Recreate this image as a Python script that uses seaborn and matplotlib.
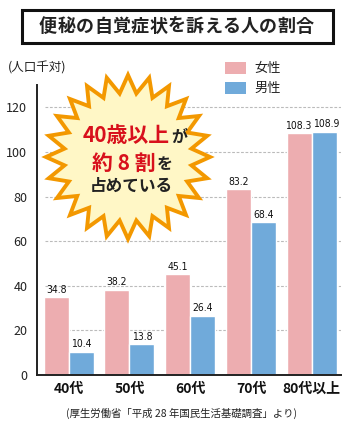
import numpy as np
import pandas as pd
import matplotlib
matplotlib.use("Agg")
import matplotlib.pyplot as plt
from matplotlib.patches import Rectangle, Polygon
import matplotlib.transforms as mtransforms
import seaborn as sns

categories = ["40代", "50代", "60代", "70代", "80代以上"]
female = [34.8, 38.2, 45.1, 83.2, 108.3]
male = [10.4, 13.8, 26.4, 68.4, 108.9]
series = ["女性", "男性"]
yticks = [0, 20, 40, 60, 80, 100, 120]
title = "便秘の自覚症状を訴える人の割合"

sns.set_theme(style="white")
plt.rcParams['font.family'] = ['Noto Sans CJK JP', 'DejaVu Sans']

W, H = 350, 433
fig = plt.figure(figsize=(W / 100, H / 100), dpi=100)
ax = fig.add_axes([37 / W, 1 - 375 / H, (341 - 37) / W, (375 - 85) / H])

df = pd.DataFrame({
    "age": categories * 2,
    "value": female + male,
    "sex": [series[0]] * len(categories) + [series[1]] * len(categories),
})
colors = {"女性": "#EDADB0", "男性": "#70AADA"}
sns.barplot(data=df, x="age", y="value", hue="sex", palette=colors,
            width=0.82, gap=0, ax=ax, legend=False, saturation=1,
            order=categories, hue_order=series)

ax.set_ylim(0, 130)
ax.set_xlim(-0.52, 4.48)
ax.set_yticks(yticks)
ax.set_yticklabels([str(v) for v in yticks], fontsize=9, color="#222222")
ax.set_xticklabels(categories, fontsize=10, color="#111111", fontweight="bold")
ax.set_xlabel("")
ax.set_ylabel("")
ax.tick_params(axis="both", length=0, pad=5)
ax.tick_params(axis="y", pad=7)
for s in ["top", "right"]:
    ax.spines[s].set_visible(False)
for s in ["left", "bottom"]:
    ax.spines[s].set_color("#222222")
    ax.spines[s].set_linewidth(1.4)
for v in yticks[1:]:
    ax.axhline(v, xmin=0.025, xmax=1, color="#BBBBBB", lw=0.8, ls=(0, (2.5, 1.5)), zorder=0)
ax.set_axisbelow(True)

for ci, cont in enumerate(ax.containers):
    for bi, bar in enumerate(cont):
        h = bar.get_height()
        dx = 0
        if bi == len(cont) - 1:
            dx = -1.5 if ci == 0 else 1.5
        tr = ax.transData + mtransforms.ScaledTranslation(dx / 100, 0, fig.dpi_scale_trans)
        ax.text(bar.get_x() + bar.get_width() / 2, h + 1.2, f"{h:.1f}",
                ha="center", va="bottom", fontsize=7.5, color="#111111",
                family=["DejaVu Sans"], fontstretch="condensed", transform=tr)

def fx(x):
    return x / W

def fy(y):
    return 1 - y / H

# Title box
fig.patches.append(Rectangle((fx(22), fy(43)), (333 - 22) / W, (43 - 10) / H,
                             transform=fig.transFigure, fill=False,
                             edgecolor="#111111", lw=2.2))
n_t = len(title)
x_start, x_end = 48, 305
for i, ch in enumerate(title):
    xc = x_start + (x_end - x_start) * i / (n_t - 1)
    fig.text(fx(xc), fy(26.5), ch, ha="center", va="center", fontsize=13,
             fontweight="bold", color="#222222")

fig.text(fx(8), fy(68), "(人口千対)", ha="left", va="center", fontsize=9, color="#222222")

# Legend
for i, s in enumerate(series):
    y0 = 62 + i * 20
    fig.patches.append(Rectangle((fx(225), fy(y0 + 12)), 21 / W, 12 / H,
                                 transform=fig.transFigure, facecolor=colors[s],
                                 edgecolor="none"))
    fig.text(fx(254), fy(y0 + 6), s, ha="left", va="center", fontsize=9.5, color="#222222")

# Starburst
cx, cy = 128, 157
n = 24
ro, ri = 82, 64
pts = []
for k in range(2 * n):
    ang = np.pi / 2 + k * np.pi / n
    r = ro if k % 2 == 0 else ri
    pts.append((fx(cx + r * np.cos(ang)), fy(cy - r * np.sin(ang))))
fig.patches.append(Polygon(pts, closed=True, transform=fig.transFigure,
                           facecolor="#FFF7C6", edgecolor="#F39800", lw=2.8,
                           joinstyle="miter", zorder=5))

red = "#D8101C"
fig.text(fx(170), fy(136), "40歳以上", ha="right", va="center", fontsize=15,
         fontweight="bold", color=red, zorder=6)
fig.text(fx(171), fy(137), "が", ha="left", va="center", fontsize=11.5,
         fontweight="bold", color="#222222", zorder=6)
fig.text(fx(156), fy(163), "約 8 割", ha="right", va="center", fontsize=15,
         fontweight="bold", color=red, zorder=6)
fig.text(fx(157), fy(164), "を", ha="left", va="center", fontsize=11.5,
         fontweight="bold", color="#222222", zorder=6)
fig.text(fx(131), fy(186), "占めている", ha="center", va="center", fontsize=12,
         fontweight="bold", color="#222222", zorder=6)

fig.text(fx(182), fy(413), "(厚生労働省「平成 28 年国民生活基礎調査」より)",
         ha="center", va="center", fontsize=7.5, color="#222222")

fig.savefig("out.png", dpi=100, facecolor="white")
